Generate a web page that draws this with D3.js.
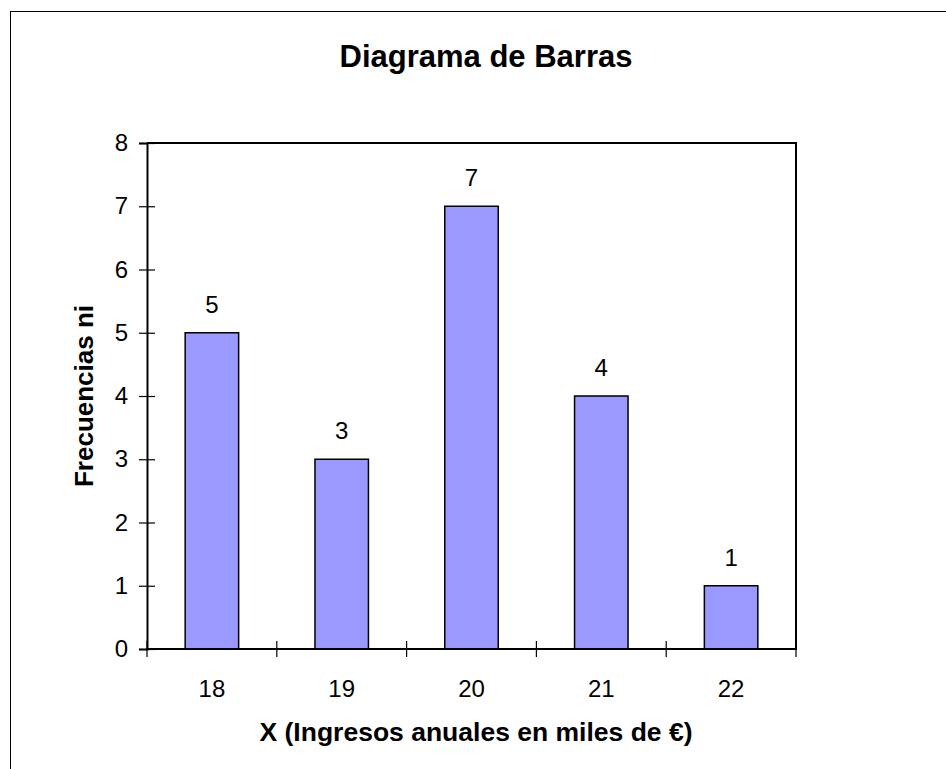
<!DOCTYPE html>
<html>
<head>
<meta charset="utf-8">
<script src="https://cdn.jsdelivr.net/npm/d3@7"></script>
<style>
  html, body { margin: 0; padding: 0; background: #fff; }
  svg { display: block; font-family: "Liberation Sans", Arial, sans-serif; }
</style>
</head>
<body>
<svg id="chart" width="946" height="769"></svg>
<script>
const categories = ["18", "19", "20", "21", "22"];
const frequencies = [5, 3, 7, 4, 1];
const yTicks = [0, 1, 2, 3, 4, 5, 6, 7, 8];
const titleText = "Diagrama de Barras";
const xTitleText = "X (Ingresos anuales en miles de €)";
const yTitleText = "Frecuencias ni";

const svg = d3.select("#chart");

// outer chart border (only top/left visible in frame)
svg.append("rect")
  .attr("x", 10.5).attr("y", 11.5)
  .attr("width", 1000).attr("height", 1000)
  .attr("fill", "none").attr("stroke", "#000").attr("stroke-width", 1);

const plot = { left: 147, right: 796, top: 143, bottom: 649 };

const x = d3.scaleBand()
  .domain(categories)
  .range([plot.left, plot.right])
  .paddingInner(0.588)
  .paddingOuter(0.294);

const y = d3.scaleLinear()
  .domain([0, 8])
  .range([plot.bottom, plot.top]);

// bars
svg.append("g").selectAll("rect")
  .data(categories)
  .join("rect")
  .attr("x", (d) => x(d))
  .attr("y", (d, i) => y(frequencies[i]))
  .attr("width", x.bandwidth())
  .attr("height", (d, i) => y(0) - y(frequencies[i]))
  .attr("fill", "#9999FF")
  .attr("stroke", "#000")
  .attr("stroke-width", 1.5);

// value labels
svg.append("g").selectAll("text")
  .data(categories)
  .join("text")
  .attr("x", (d) => x(d) + x.bandwidth() / 2)
  .attr("y", (d, i) => y(frequencies[i]) - 20)
  .attr("text-anchor", "middle")
  .attr("font-size", 24)
  .attr("fill", "#000")
  .text((d, i) => frequencies[i]);

// plot frame top & right
svg.append("path")
  .attr("d", `M${plot.left},${plot.top}H${plot.right}V${plot.bottom}`)
  .attr("fill", "none").attr("stroke", "#000").attr("stroke-width", 2);

// Y axis
const yAxis = d3.axisLeft(y).tickValues(yTicks).tickSize(8).tickPadding(11).tickFormat(d3.format("d"));
const gy = svg.append("g").attr("transform", `translate(${plot.left},0)`).call(yAxis);
gy.select(".domain").attr("stroke", "#000").attr("stroke-width", 2);
gy.selectAll(".tick line").attr("stroke", "#000").attr("stroke-width", 1.2)
  .attr("x1", 8).attr("x2", -8);
gy.selectAll(".tick text").attr("font-size", 24).attr("fill", "#000")
  .attr("font-family", "Liberation Sans, Arial, sans-serif");

// X axis: labels at band centers, ticks at category boundaries
const xAxis = d3.axisBottom(x).tickSize(0).tickPadding(30);
const gx = svg.append("g").attr("transform", `translate(0,${plot.bottom})`).call(xAxis);
gx.select(".domain").remove();
gx.selectAll(".tick text").attr("font-size", 24).attr("fill", "#000")
  .attr("font-family", "Liberation Sans, Arial, sans-serif")
  .attr("dy", "0");
gx.selectAll(".tick text").attr("y", 48);

const boundaries = categories.map((d) => x(d) - x.step() * x.paddingInner() / 2)
  .concat([plot.right]);
boundaries[0] = plot.left;
svg.append("g").selectAll("line")
  .data(boundaries)
  .join("line")
  .attr("x1", (d) => d).attr("x2", (d) => d)
  .attr("y1", plot.bottom - 8).attr("y2", plot.bottom + 8)
  .attr("stroke", "#000").attr("stroke-width", 1.2);

svg.append("line")
  .attr("x1", plot.left - 1).attr("x2", plot.right + 1)
  .attr("y1", plot.bottom).attr("y2", plot.bottom)
  .attr("stroke", "#000").attr("stroke-width", 2);

// titles
svg.append("text")
  .attr("x", 486).attr("y", 67)
  .attr("text-anchor", "middle")
  .attr("font-size", 31).attr("font-weight", "bold")
  .attr("fill", "#000")
  .text(titleText);

svg.append("text")
  .attr("x", 476).attr("y", 741)
  .attr("text-anchor", "middle")
  .attr("font-size", 26.5).attr("font-weight", "bold")
  .attr("fill", "#000")
  .text(xTitleText);

svg.append("text")
  .attr("transform", "translate(93,396) rotate(-90)")
  .attr("text-anchor", "middle")
  .attr("font-size", 26).attr("font-weight", "bold")
  .attr("fill", "#000")
  .text(yTitleText);
</script>
</body>
</html>
